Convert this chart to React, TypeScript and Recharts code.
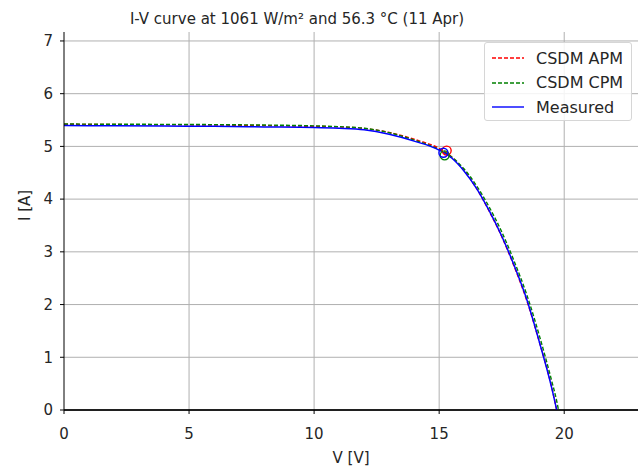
import {
  ComposedChart,
  Line,
  ReferenceLine,
  Scatter,
  XAxis,
  YAxis,
} from "recharts";

const volts = [0, 2, 4, 6, 8, 10, 11, 12, 13, 14, 15, 15.5, 16, 16.5, 17, 17.5, 18, 18.5, 19, 19.5, 19.7];
const measuredAmps = [5.395, 5.39, 5.385, 5.38, 5.37, 5.36, 5.345, 5.315, 5.23, 5.1, 4.93, 4.78, 4.53, 4.2, 3.78, 3.3, 2.74, 2.1, 1.3, 0.42, 0];
const apmAmps = [5.42, 5.415, 5.41, 5.405, 5.395, 5.38, 5.37, 5.34, 5.265, 5.135, 4.96, 4.8, 4.54, 4.2, 3.77, 3.29, 2.72, 2.08, 1.3, 0.43, 0];
const cpmAmps = [5.425, 5.42, 5.418, 5.413, 5.405, 5.39, 5.375, 5.345, 5.26, 5.12, 4.94, 4.8, 4.57, 4.25, 3.85, 3.38, 2.82, 2.19, 1.42, 0.55, 0.17];
const cpmVoc = 19.77;

// maximum power points [V, I]
const mppMeasured = [15.17, 4.88];
const mppApm = [15.3, 4.92];
const mppCpm = [15.22, 4.83];

const xTicks = [0, 5, 10, 15, 20];
const yTicks = [0, 1, 2, 3, 4, 5, 6, 7];

const toRows = (amps: number[]) => volts.map((v, k) => ({ v, i: amps[k] }));

const measuredData = toRows(measuredAmps);
const apmData = toRows(apmAmps);
const cpmData = [...toRows(cpmAmps), { v: cpmVoc, i: 0 }];

const font = "'DejaVu Sans', sans-serif";
const textColor = "#262626";
const gridColor = "#b0b0b0";

const legendItems = [
  { name: "CSDM APM", color: "#ff0000", dash: "4 2" },
  { name: "CSDM CPM", color: "#008000", dash: "4 2" },
  { name: "Measured", color: "#0000ff", dash: undefined },
];

function LegendBox() {
  return (
    <div
      style={{
        position: "absolute",
        left: 484,
        top: 42,
        width: 148,
        height: 79,
        boxSizing: "border-box",
        background: "rgba(255,255,255,0.85)",
        border: "1px solid #d6d6d6",
        borderRadius: 3,
        paddingTop: 3,
        fontFamily: font,
        fontSize: 16,
        color: textColor,
      }}
    >
      {legendItems.map((it) => (
        <div key={it.name} style={{ display: "flex", alignItems: "center", height: 24.5 }}>
          <svg width={34} height={10} style={{ marginLeft: 5, marginRight: 12 }}>
            <line
              x1={2}
              y1={5}
              x2={34}
              y2={5}
              stroke={it.color}
              strokeWidth={1.4}
              strokeDasharray={it.dash}
            />
          </svg>
          <span>{it.name}</span>
        </div>
      ))}
    </div>
  );
}

const ring = (color: string) => (props: any) => (
  <circle cx={props.cx} cy={props.cy} r={4.5} fill="none" stroke={color} strokeWidth={1.4} />
);

export default function App() {
  return (
    <div style={{ position: "absolute", left: 0, top: 0, width: 643, height: 467, background: "#fff" }}>
      <div
        style={{
          position: "absolute",
          top: 10,
          left: 0,
          width: 594,
          textAlign: "center",
          fontFamily: font,
          fontSize: 15,
          color: textColor,
          whiteSpace: "nowrap",
        }}
      >
        I-V curve at 1061 W/m² and 56.3 °C (11 Apr)
      </div>
      <ComposedChart width={643} height={467} margin={{ top: 32, right: 5, left: 0, bottom: 0 }}>
        {xTicks.slice(1).map((t) => (
          <ReferenceLine key={`vx${t}`} x={t} stroke={gridColor} strokeWidth={1} />
        ))}
        {yTicks.slice(1).map((t) => (
          <ReferenceLine key={`hy${t}`} y={t} stroke={gridColor} strokeWidth={1} />
        ))}
        <XAxis
          dataKey="v"
          type="number"
          domain={[0, 22.95]}
          ticks={xTicks}
          allowDataOverflow
          height={57}
          tickSize={4}
          tickMargin={14}
          tickLine={{ stroke: "#000" }}
          axisLine={{ stroke: "#000" }}
          tick={{ fontSize: 15, fill: textColor, fontFamily: font }}
          label={{ value: "V [V]", position: "insideBottom", offset: 4, fontSize: 15, fill: textColor, fontFamily: font }}
        />
        <YAxis
          type="number"
          domain={[0, 7.17]}
          ticks={yTicks}
          allowDataOverflow
          width={64}
          tickSize={4}
          tickMargin={7}
          tickLine={{ stroke: "#000" }}
          axisLine={{ stroke: "#000" }}
          tick={{ fontSize: 15, fill: textColor, fontFamily: font }}
          label={{ value: "I [A]", angle: -90, position: "insideLeft", offset: 25, fontSize: 15, fill: textColor, fontFamily: font }}
        />
        <ReferenceLine y={0} stroke="#000" strokeWidth={1.5} />
        <Line data={apmData} dataKey="i" type="monotone" stroke="#ff0000" strokeWidth={1.4} strokeDasharray="4 2" dot={false} isAnimationActive={false} />
        <Line data={cpmData} dataKey="i" type="monotone" stroke="#008000" strokeWidth={1.4} strokeDasharray="4 2" dot={false} isAnimationActive={false} />
        <Line data={measuredData} dataKey="i" type="monotone" stroke="#0000ff" strokeWidth={1.5} dot={false} isAnimationActive={false} />
        <Scatter data={[{ v: mppApm[0], i: mppApm[1] }]} dataKey="i" shape={ring("#ff0000")} isAnimationActive={false} />
        <Scatter data={[{ v: mppCpm[0], i: mppCpm[1] }]} dataKey="i" shape={ring("#008000")} isAnimationActive={false} />
        <Scatter data={[{ v: mppMeasured[0], i: mppMeasured[1] }]} dataKey="i" shape={ring("#0000ff")} isAnimationActive={false} />
      </ComposedChart>
      <LegendBox />
    </div>
  );
}
